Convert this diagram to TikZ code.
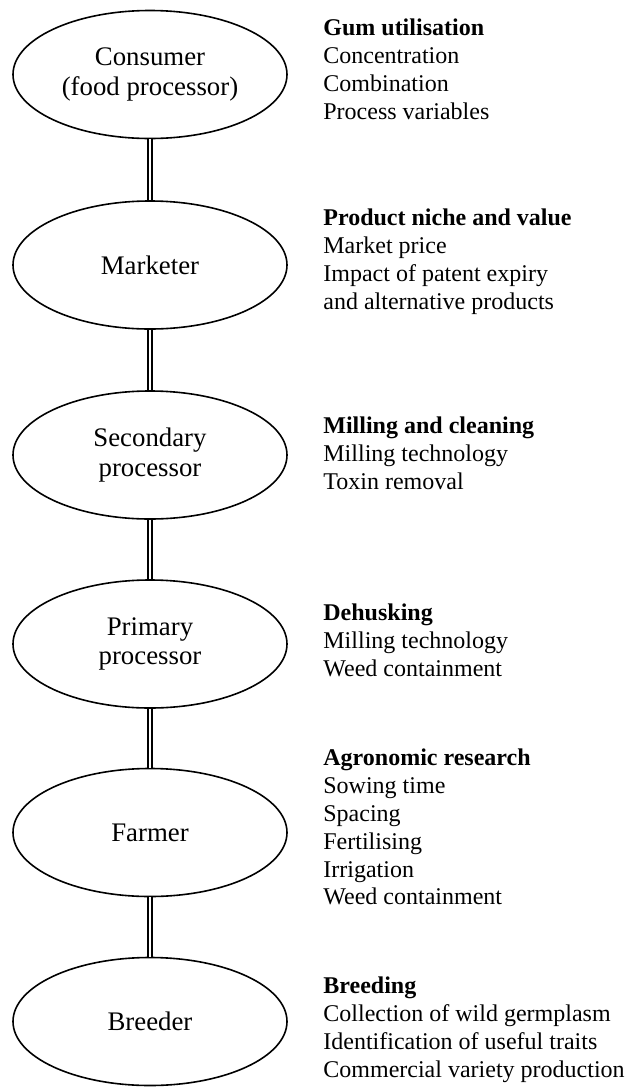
\documentclass[tikz,border=0pt]{standalone}
\usepackage{fontspec}
\setmainfont{Liberation Serif}
\usepackage{tikz}
\usetikzlibrary{shapes.geometric}

\begin{document}
\begin{tikzpicture}[x=0.5pt,y=0.5pt,yscale=-1,xscale=1,
	stage/.style={draw, ellipse, line width=0.8pt, inner sep=0pt, minimum width=137pt, minimum height=64pt, align=center, font=\fontsize{13.4}{14.8}\selectfont},
	link/.style={double, line width=0.75pt, double distance=1.2pt},
	notes/.style={anchor=north west, inner sep=0pt, align=left, font=\fontsize{12}{13.9}\selectfont}]
	%set diagram left start at 0, and has height of 1088
	\useasboundingbox (0,0) rectangle (629,1088);
	
	%Shape: Ellipse [consumer .. breeder]
	\node [stage] (consumer) at (150,74.5) {Consumer\\(food processor)};
	\node [stage] (marketer) at (150,265) {Marketer};
	\node [stage] (secondary) at (150,455) {Secondary\\processor};
	\node [stage] (primary) at (150,644) {Primary\\processor};
	\node [stage] (farmer) at (150,832.5) {Farmer};
	\node [stage] (breeder) at (150,1021.5) {Breeder};
	
	%Straight Lines (double)
	\draw [link] (consumer) -- (marketer);
	\draw [link] (marketer) -- (secondary);
	\draw [link] (secondary) -- (primary);
	\draw [link] (primary) -- (farmer);
	\draw [link] (farmer) -- (breeder);
	
	% Text Node
	\node [notes] (gum) at (323,18.8) {\textbf{Gum utilisation}\\Concentration\\Combination\\Process variables};
	% Text Node
	\node [notes] (niche) at (323,208.8) {\textbf{Product niche and value}\\Market price\\Impact of patent expiry\\and alternative products};
	% Text Node
	\node [notes] (milling) at (323,416.8) {\textbf{Milling and cleaning}\\Milling technology\\Toxin removal};
	% Text Node
	\node [notes] (dehusk) at (323,603.8) {\textbf{Dehusking}\\Milling technology\\Weed containment};
	% Text Node
	\node [notes] (agro) at (323,748.8) {\textbf{Agronomic research}\\Sowing time\\Spacing\\Fertilising\\Irrigation\\Weed containment};
	% Text Node
	\node [notes] (breeding) at (323,976.8) {\textbf{Breeding}\\Collection of wild germplasm\\Identification of useful traits\\Commercial variety production};
	
\end{tikzpicture}
\end{document}
